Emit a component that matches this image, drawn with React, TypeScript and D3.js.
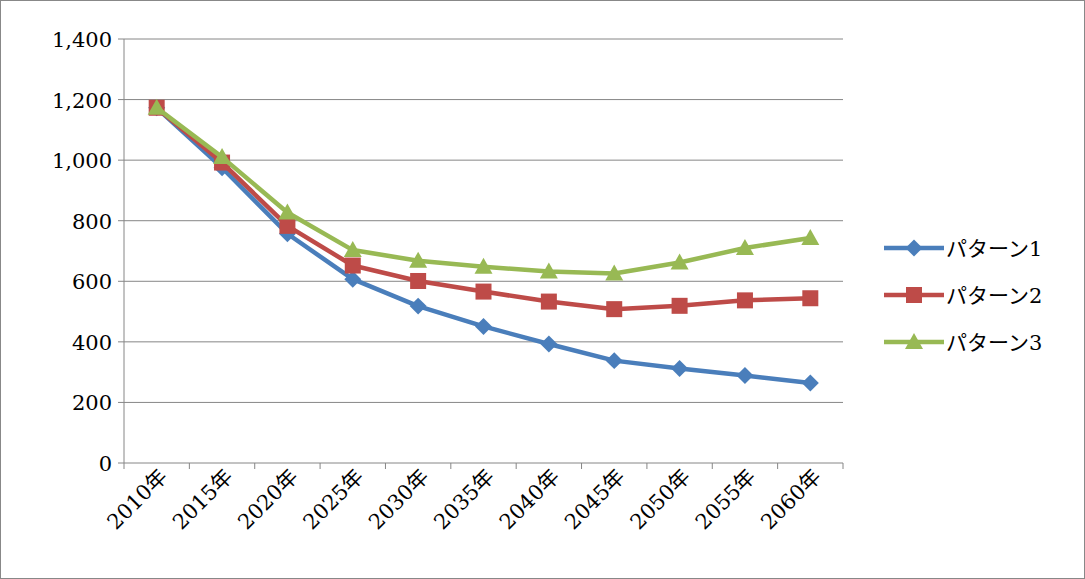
import React from "react";
import * as d3 from "d3";

const categories = ["2010年","2015年","2020年","2025年","2030年","2035年","2040年","2045年","2050年","2055年","2060年"];
const pattern1 = [1173, 975, 757, 607, 518, 451, 393, 338, 312, 289, 264];
const pattern2 = [1173, 992, 783, 652, 601, 566, 533, 508, 519, 537, 544];
const pattern3 = [1173, 1010, 827, 703, 668, 648, 632, 626, 662, 710, 743];
const yTicks = [0, 200, 400, 600, 800, 1000, 1200, 1400];
const seriesNames = ["パターン1", "パターン2", "パターン3"];
const colors = ["#4a7ebb", "#be4b48", "#98b954"];

export default function App() {
  const W = 1085, H = 579;
  const x = d3.scaleBand<string>().domain(categories).range([124, 843]);
  const y = d3.scaleLinear().domain([0, 1400]).range([463, 39]);
  const line = d3.line<number>().x((_, i) => x(categories[i])! + x.bandwidth() / 2).y(d => y(d));
  const all = [pattern1, pattern2, pattern3];
  const num = d3.format(",");
  const font = "'DejaVu Serif', 'Liberation Serif', 'Noto Sans CJK JP', serif";
  const marker = (k: number, cx: number, cy: number, key: string) => {
    if (k === 0) return <rect key={key} x={cx - 6} y={cy - 6} width={12} height={12} fill={colors[0]} transform={`rotate(45 ${cx} ${cy})`} />;
    if (k === 1) return <rect key={key} x={cx - 8} y={cy - 8} width={16} height={16} fill={colors[1]} />;
    return <path key={key} d={`M${cx},${cy - 9}L${cx + 9},${cy + 7}L${cx - 9},${cy + 7}Z`} fill={colors[2]} />;
  };
  return (
    <svg width={W} height={H} style={{ position: "absolute", left: 0, top: 0, background: "#fff", fontFamily: font }}>
      <rect x={0.5} y={0.5} width={W - 1} height={H - 1} fill="none" stroke="#888" />
      {yTicks.map(t => (
        <g key={t}>
          {t > 0 && <line x1={124} x2={843} y1={y(t)} y2={y(t)} stroke="#868686" />}
          <line x1={118} x2={124} y1={y(t)} y2={y(t)} stroke="#868686" />
          <text x={112} y={y(t) + 8} textAnchor="end" fontSize={21}>{num(t)}</text>
        </g>
      ))}
      <line x1={124} x2={124} y1={39} y2={463} stroke="#868686" />
      <line x1={124} x2={843} y1={463} y2={463} stroke="#868686" />
      {categories.map(c => (
        <line key={c} x1={x(c)!} x2={x(c)!} y1={463} y2={469} stroke="#868686" />
      ))}
      <line x1={843} x2={843} y1={463} y2={469} stroke="#868686" />
      {categories.map(c => {
        const cx = x(c)! + x.bandwidth() / 2 + 12, cy = 478;
        return <text key={c} x={cx} y={cy} textAnchor="end" fontSize={21} transform={`rotate(-45 ${cx} ${cy})`}>{c}</text>;
      })}
      {all.map((s, k) => (
        <g key={k}>
          <path d={line(s)!} fill="none" stroke={colors[k]} strokeWidth={4.5} strokeLinejoin="round" />
          {s.map((v, i) => marker(k, x(categories[i])! + x.bandwidth() / 2, y(v), `${k}-${i}`))}
        </g>
      ))}
      {seriesNames.map((n, k) => {
        const ly = 248 + k * 47;
        return (
          <g key={n}>
            <line x1={884} x2={944} y1={ly} y2={ly} stroke={colors[k]} strokeWidth={4.5} />
            {marker(k, 914, ly, `l${k}`)}
            <text x={946} y={ly + 8} fontSize={21}>{n}</text>
          </g>
        );
      })}
    </svg>
  );
}
